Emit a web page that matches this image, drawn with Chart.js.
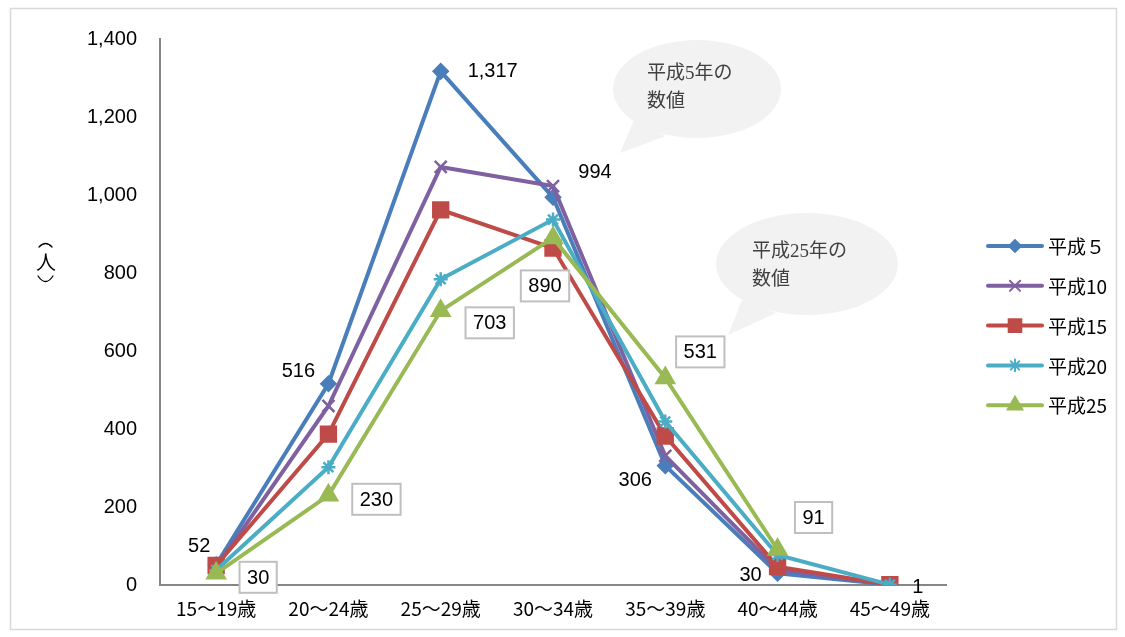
<!DOCTYPE html>
<html>
<head>
<meta charset="utf-8">
<script src="https://cdn.jsdelivr.net/npm/chart.js@4/dist/chart.umd.min.js"></script>
<style>
  body { margin: 0; background: #fff; }
  #wrap { width: 1125px; height: 637px; }
</style>
</head>
<body>
<div id="wrap"><canvas id="grafica" width="1125" height="637"></canvas></div>
<script>
// datos
const categorias = ['15～19歳', '20～24歳', '25～29歳', '30～34歳', '35～39歳', '40～44歳', '45～49歳'];
const seriesNombres = ['平成５', '平成10', '平成15', '平成20', '平成25'];
const h5 = [52, 516, 1317, 994, 306, 30, 1];
const h10 = [45, 459, 1072, 1023, 331, 40, 1];
const h15 = [50, 387, 962, 864, 382, 47, 1];
const h20 = [38, 302, 784, 937, 419, 77, 1];
const h25 = [30, 230, 703, 890, 531, 91, null];
const yTicks = [0, 200, 400, 600, 800, 1000, 1200, 1400];

const colores = ['#4a7ebb', '#7f60a0', '#be4b48', '#4bacc6', '#98b954'];
const estilos = ['rectRot', 'crossRot', 'rect', 'star', 'triangle'];
const radios = [7, 8.5, 10.5, 7, 10];
const valores = [h5, h10, h15, h20, h25];

const fmt = v => v.toLocaleString('en-US');

// globo de texto (callout)
function globo(c, cx, cy, rx, ry, cola, lineas, tx, ty) {
  c.save();
  c.fillStyle = '#f2f2f2';
  c.beginPath();
  c.ellipse(cx, cy, rx, ry, 0, 0, Math.PI * 2);
  c.fill();
  c.beginPath();
  c.moveTo(cola[0][0], cola[0][1]);
  c.lineTo(cola[1][0], cola[1][1]);
  c.lineTo(cola[2][0], cola[2][1]);
  c.closePath();
  c.fill();
  c.fillStyle = '#404040';
  c.font = '19px "Liberation Serif", "Noto Sans CJK JP", serif';
  c.textAlign = 'left';
  c.textBaseline = 'middle';
  lineas.forEach((t, i) => c.fillText(t, tx, ty + i * 28));
  c.restore();
}

const decoracion = {
  id: 'decoracion',
  beforeDraw(chart) {
    const c = chart.ctx;
    c.save();
    c.strokeStyle = '#d9d9d9';
    c.lineWidth = 1.5;
    c.strokeRect(10.5, 8.5, 1106, 621);
    c.restore();
  },
  beforeDatasetsDraw(chart) {
    const c = chart.ctx;
    globo(c, 697, 89, 84, 49, [[634, 120], [620, 153], [666, 136]], ['平成5年の', '数値'], 647, 74);
    globo(c, 807, 264, 91, 51, [[742, 300], [728, 335], [776, 313]], ['平成25年の', '数値'], 752, 252);
  },
  afterDatasetsDraw(chart) {
    const c = chart.ctx;
    c.save();
    c.font = '20px "Liberation Sans", Arial, sans-serif';
    c.textAlign = 'center';
    c.textBaseline = 'middle';
    c.fillStyle = '#000';

    // etiquetas del 平成5 (sin caja)
    const off5 = [[-17, -18], [-30, -12], [52, 0], [42, -25], [-30, 15], [-27, 2], [28, 3]];
    const m5 = chart.getDatasetMeta(0);
    m5.data.forEach((p, i) => {
      c.fillText(fmt(h5[i]), p.x + off5[i][0], p.y + off5[i][1]);
    });

    // etiquetas del 平成25 (con caja)
    const off25 = [[42, 4], [48, 4], [49, 12], [-8, 48], [35, -26], [36, -32], null];
    const m25 = chart.getDatasetMeta(4);
    m25.data.forEach((p, i) => {
      if (!off25[i] || h25[i] == null) return;
      const t = fmt(h25[i]);
      const x = p.x + off25[i][0], y = p.y + off25[i][1];
      const w = c.measureText(t).width + 15, h = 31;
      c.fillStyle = '#fff';
      c.fillRect(x - w / 2, y - h / 2, w, h);
      c.strokeStyle = '#bfbfbf';
      c.lineWidth = 2;
      c.strokeRect(x - w / 2, y - h / 2, w, h);
      c.fillStyle = '#000';
      c.fillText(t, x, y + 1);
    });
    c.restore();
  },
  afterDraw(chart) {
    const c = chart.ctx;
    c.save();
    // leyenda
    seriesNombres.forEach((n, i) => {
      const y = 246 + i * 39.8;
      c.strokeStyle = colores[i];
      c.fillStyle = colores[i];
      c.lineWidth = 4;
      c.lineCap = 'round';
      c.beginPath();
      c.moveTo(988, y);
      c.lineTo(1042, y);
      c.stroke();
      c.lineWidth = 2;
      Chart.helpers.drawPoint(c, { pointStyle: estilos[i], radius: radios[i] * 0.85, rotation: 0, borderWidth: 2 }, 1015, y);
      c.fillStyle = '#000';
      c.font = '19px "Noto Sans CJK JP", sans-serif';
      c.textAlign = 'left';
      c.textBaseline = 'middle';
      c.fillText(n, 1048, y + 1);
    });
    // titulo del eje Y (vertical): ︵人︶
    c.fillStyle = '#000';
    c.strokeStyle = '#000';
    c.lineWidth = 1.3;
    c.beginPath();
    c.moveTo(39, 247);
    c.quadraticCurveTo(45.5, 240, 52, 247);
    c.stroke();
    c.beginPath();
    c.moveTo(38, 276);
    c.quadraticCurveTo(45.5, 287, 53, 276);
    c.stroke();
    c.font = '20px "Noto Sans CJK JP", sans-serif';
    c.textAlign = 'center';
    c.textBaseline = 'middle';
    c.fillText('人', 46, 262);
    c.restore();
  }
};

const ctx1 = document.getElementById('grafica');

new Chart(ctx1, {
  type: 'line',
  data: {
    labels: categorias,
    datasets: valores.map((v, i) => ({
      label: seriesNombres[i],
      data: v,
      borderColor: colores[i],
      backgroundColor: colores[i],
      borderWidth: 4,
      pointStyle: estilos[i],
      pointRadius: radios[i],
      pointBorderWidth: 2.5,
      pointBorderColor: colores[i],
      pointBackgroundColor: colores[i],
      tension: 0,
      order: 4 - i
    }))
  },
  options: {
    responsive: false,
    animation: false,
    devicePixelRatio: 1,
    layout: { padding: { top: 39, right: 179, left: 0, bottom: 0 } },
    plugins: {
      legend: { display: false },
      tooltip: { enabled: false }
    },
    scales: {
      x: {
        offset: true,
        grid: { display: false, drawTicks: false },
        border: { display: true, color: '#868686', width: 2 },
        ticks: {
          color: '#000',
          padding: 12,
          maxRotation: 0,
          font: { family: '"Noto Sans CJK JP", sans-serif', size: 19 }
        },
        afterFit(s) { s.height = 52; }
      },
      y: {
        min: 0,
        max: 1400,
        grid: { display: false, drawTicks: false },
        border: { display: true, color: '#868686', width: 2 },
        afterBuildTicks(s) { s.ticks = yTicks.map(v => ({ value: v })); },
        ticks: {
          color: '#000',
          padding: 23,
          callback: v => fmt(v),
          font: { family: '"Liberation Sans", Arial, sans-serif', size: 20 }
        },
        afterFit(s) { s.width = 160; }
      }
    }
  },
  plugins: [decoracion]
});
</script>
</body>
</html>
